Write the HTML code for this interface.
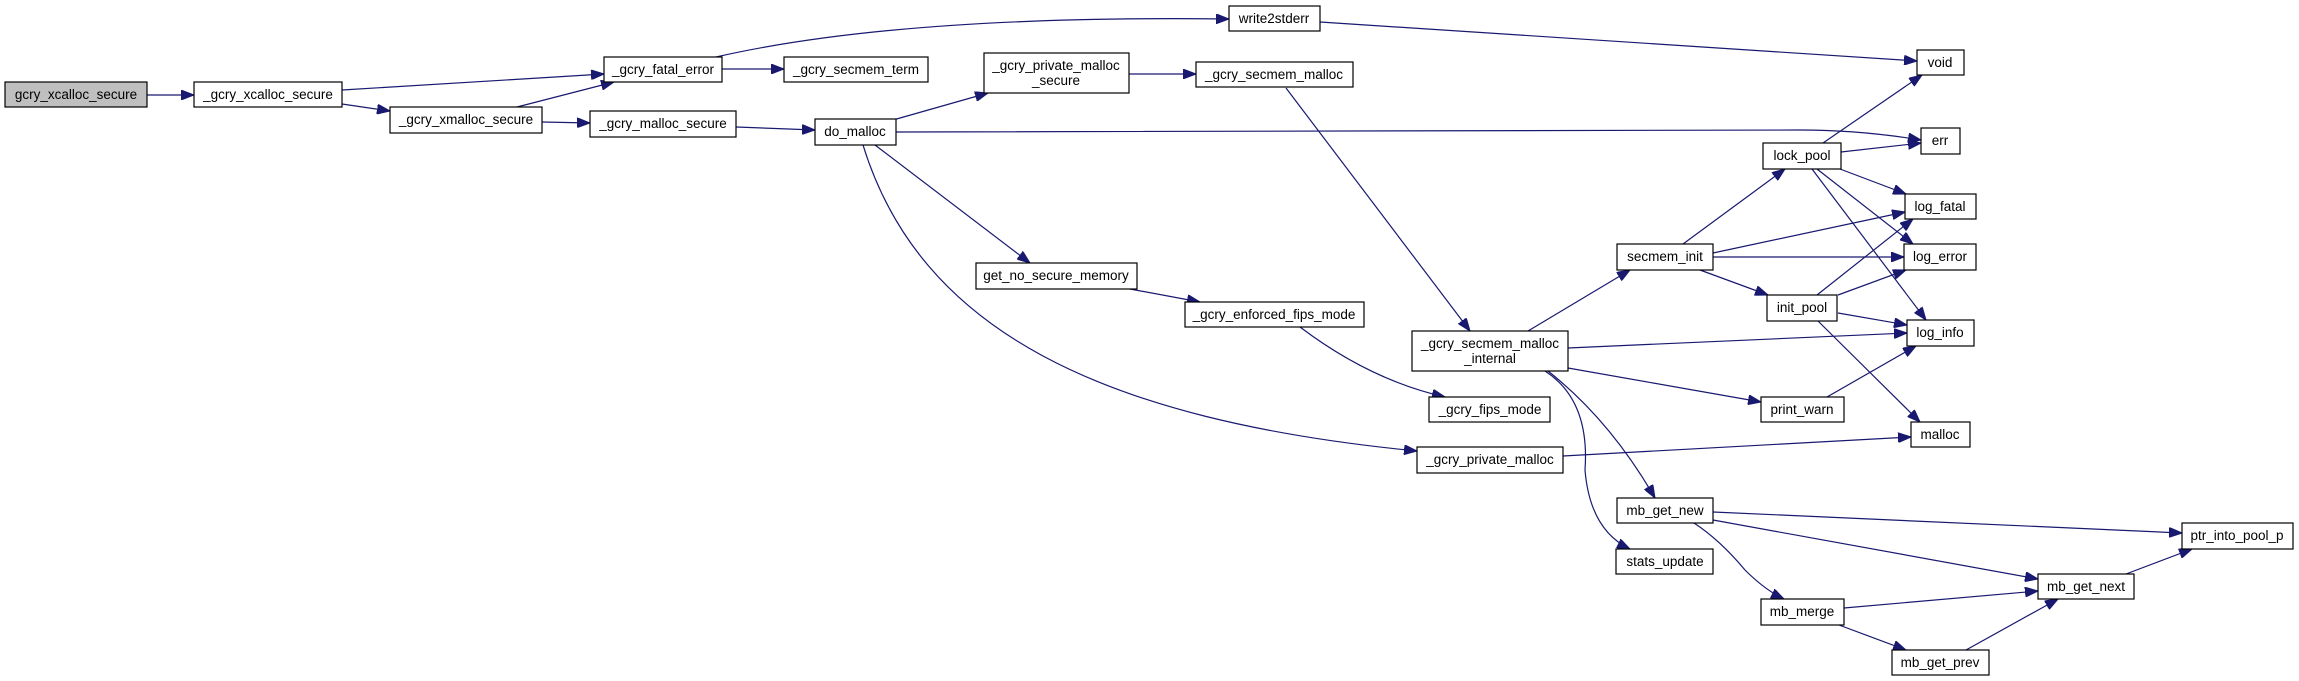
<!DOCTYPE html>
<html><head><meta charset="utf-8"><style>
html,body{margin:0;padding:0;background:#fff;}
svg{display:block;}
text{font-family:"Liberation Sans",sans-serif;font-size:13.5px;fill:#000;text-anchor:middle;}
rect{fill:#fff;stroke:#000;stroke-width:1.2;}
path{fill:none;stroke:#191970;stroke-width:1.2;}
</style></head><body>
<svg width="2299" height="681" viewBox="0 0 2299 681" xmlns="http://www.w3.org/2000/svg">
<defs><marker id="a" markerUnits="userSpaceOnUse" markerWidth="14" markerHeight="10" refX="13" refY="5" orient="auto"><path d="M0,0 L13,5 L0,10 Z" style="fill:#191970;stroke:#191970;stroke-width:1"/></marker></defs>
<g marker-end="url(#a)">
<path d="M147,95 L194,95"/>
<path d="M342,90 L604,74"/>
<path d="M342,104 L390,111"/>
<path d="M517,107 L614,82"/>
<path d="M542,122 L590,123"/>
<path d="M722,69 L784,69"/>
<path d="M716,57 Q900,15 1229,19"/>
<path d="M1320,22 L1917,61"/>
<path d="M736,127 L815,130"/>
<path d="M893,120 L988,93"/>
<path d="M1129,74 L1196,74"/>
<path d="M1286,88 L1470,331"/>
<path d="M896,132 L1800,130 Q1860,130 1921,140"/>
<path d="M875,145 L1030,263"/>
<path d="M863,145 C920,330 1100,420 1417,451"/>
<path d="M1130,289 L1200,302"/>
<path d="M1300,327 Q1370,380 1445,397"/>
<path d="M1528,331 L1630,270"/>
<path d="M1568,348 L1907,333"/>
<path d="M1568,368 L1761,402"/>
<path d="M1548,371 Q1610,420 1655,498"/>
<path d="M1545,371 Q1590,400 1585,470 Q1590,530 1630,549"/>
<path d="M1563,456 L1911,437"/>
<path d="M1683,244 L1785,169"/>
<path d="M1713,253 L1905,212"/>
<path d="M1713,257 L1904,257"/>
<path d="M1700,270 L1768,295"/>
<path d="M1823,143 L1922,75"/>
<path d="M1841,152 L1921,143"/>
<path d="M1840,169 L1906,194"/>
<path d="M1817,169 L1913,244"/>
<path d="M1812,169 L1926,320"/>
<path d="M1817,295 L1913,219"/>
<path d="M1838,295 L1906,270"/>
<path d="M1838,313 L1907,325"/>
<path d="M1818,321 L1920,422"/>
<path d="M1827,397 L1916,346"/>
<path d="M1713,512 L2182,533"/>
<path d="M1713,520 L2038,579"/>
<path d="M1694,523 Q1720,540 1745,570 Q1765,590 1784,599"/>
<path d="M1844,608 L2038,591"/>
<path d="M1839,625 L1906,650"/>
<path d="M1966,650 L2058,599"/>
<path d="M2126,574 L2192,549"/>
</g>
<rect x="5" y="82" width="142" height="25" style="fill:#bfbfbf"/><text x="76" y="99">gcry_xcalloc_secure</text>
<rect x="194" y="82" width="148" height="25"/><text x="268" y="99">_gcry_xcalloc_secure</text>
<rect x="390" y="107" width="152" height="26"/><text x="466" y="124">_gcry_xmalloc_secure</text>
<rect x="604" y="57" width="118" height="25"/><text x="663" y="74">_gcry_fatal_error</text>
<rect x="590" y="111" width="146" height="26"/><text x="663" y="128">_gcry_malloc_secure</text>
<rect x="784" y="57" width="144" height="25"/><text x="856" y="74">_gcry_secmem_term</text>
<rect x="1229" y="6" width="91" height="25"/><text x="1274" y="23">write2stderr</text>
<rect x="984" y="53" width="145" height="40"/><text x="1056" y="70">_gcry_private_malloc</text><text x="1056" y="85">_secure</text>
<rect x="1196" y="62" width="157" height="25"/><text x="1274" y="79">_gcry_secmem_malloc</text>
<rect x="815" y="119" width="81" height="26"/><text x="855" y="136">do_malloc</text>
<rect x="976" y="263" width="161" height="26"/><text x="1056" y="280">get_no_secure_memory</text>
<rect x="1185" y="302" width="179" height="25"/><text x="1274" y="319">_gcry_enforced_fips_mode</text>
<rect x="1412" y="331" width="156" height="40"/><text x="1490" y="348">_gcry_secmem_malloc</text><text x="1490" y="363">_internal</text>
<rect x="1429" y="397" width="121" height="25"/><text x="1490" y="414">_gcry_fips_mode</text>
<rect x="1417" y="447" width="146" height="26"/><text x="1490" y="464">_gcry_private_malloc</text>
<rect x="1917" y="50" width="47" height="25"/><text x="1940" y="67">void</text>
<rect x="1921" y="128" width="39" height="26"/><text x="1940" y="145">err</text>
<rect x="1763" y="143" width="78" height="26"/><text x="1802" y="160">lock_pool</text>
<rect x="1905" y="194" width="71" height="25"/><text x="1940" y="211">log_fatal</text>
<rect x="1617" y="244" width="96" height="26"/><text x="1665" y="261">secmem_init</text>
<rect x="1904" y="244" width="72" height="26"/><text x="1940" y="261">log_error</text>
<rect x="1767" y="295" width="70" height="26"/><text x="1802" y="312">init_pool</text>
<rect x="1907" y="320" width="67" height="26"/><text x="1940" y="337">log_info</text>
<rect x="1761" y="397" width="83" height="25"/><text x="1802" y="414">print_warn</text>
<rect x="1911" y="422" width="59" height="25"/><text x="1940" y="439">malloc</text>
<rect x="1617" y="498" width="96" height="25"/><text x="1665" y="515">mb_get_new</text>
<rect x="1616" y="549" width="97" height="25"/><text x="1665" y="566">stats_update</text>
<rect x="2182" y="523" width="111" height="26"/><text x="2237" y="540">ptr_into_pool_p</text>
<rect x="2038" y="574" width="96" height="25"/><text x="2086" y="591">mb_get_next</text>
<rect x="1761" y="599" width="83" height="26"/><text x="1802" y="616">mb_merge</text>
<rect x="1892" y="650" width="97" height="25"/><text x="1940" y="667">mb_get_prev</text>
</svg>
</body></html>
